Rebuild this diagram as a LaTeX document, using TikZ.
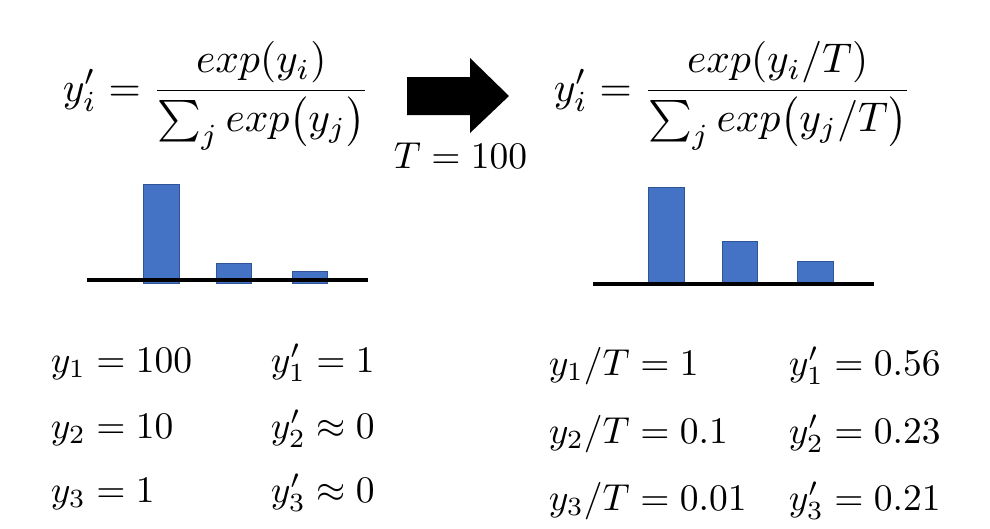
\documentclass[tikz,border=0pt]{standalone}
\usepackage{amsmath}
\definecolor{barblue}{HTML}{4472C4}
\definecolor{baredge}{HTML}{2F5597}
\tikzset{
  eq/.style={inner sep=0pt, anchor=base west, scale=3.75, transform shape},
  bigeq/.style={inner sep=0pt, anchor=base west, scale=4.15, transform shape},
  bar/.style={fill=barblue, draw=baredge, line width=0.8pt},
  axisline/.style={line width=4pt},
}
\begin{document}
\begin{tikzpicture}[x=1pt,y=-1pt]
\useasboundingbox (0,0) rectangle (990,528);
% formulas
\node[bigeq] (fl) at (62,101) {$y_i' = \dfrac{exp(y_i)}{\sum_j exp\bigl(y_j\bigr)}$};
\node[bigeq] (fr) at (553,101) {$y_i' = \dfrac{exp(y_i/T)}{\sum_j exp\bigl(y_j/T\bigr)}$};
% arrow
\fill (407,77) -- (470,77) -- (470,58) -- (509,96) -- (470,133) -- (470,115) -- (407,115) -- cycle;
\node[eq] (temp) at (393,168) {$T = 100$};
% left bars
\draw[bar] (143,283) rectangle (179,184);
\draw[bar] (216,283) rectangle (251,263);
\draw[bar] (292,283) rectangle (327,271);
\draw[axisline] (87,280) -- (368,280);
% right bars
\draw[bar] (648,284) rectangle (684,187);
\draw[bar] (722,284) rectangle (757,241);
\draw[bar] (797,284) rectangle (833,261);
\draw[axisline] (593,284) -- (874,284);
% left values
\node[eq] (a1) at (50,372) {$y_1 = 100$};
\node[eq] (a2) at (50,438) {$y_2 = 10$};
\node[eq] (a3) at (50,502) {$y_3 = 1$};
\node[eq] (b1) at (270,372) {$y_1' = 1$};
\node[eq] (b2) at (270,438) {$y_2' \approx 0$};
\node[eq] (b3) at (270,502) {$y_3' \approx 0$};
% right values
\node[eq] (c1) at (548,375) {$y_1/T = 1$};
\node[eq] (c2) at (548,443) {$y_2/T = 0.1$};
\node[eq] (c3) at (548,510) {$y_3/T = 0.01$};
\node[eq] (d1) at (788,375) {$y_1' = 0.56$};
\node[eq] (d2) at (788,443) {$y_2' = 0.23$};
\node[eq] (d3) at (788,510) {$y_3' = 0.21$};
\end{tikzpicture}
\end{document}
